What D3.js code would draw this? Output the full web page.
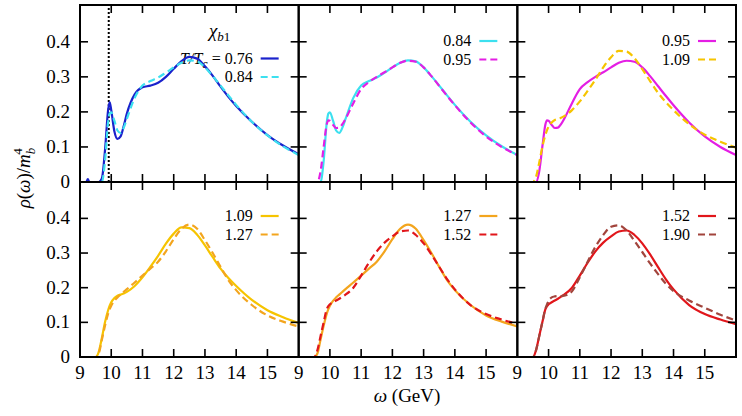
<!DOCTYPE html>
<html><head><meta charset="utf-8">
<script src="https://cdn.jsdelivr.net/npm/d3@7"></script>
<style>
body{margin:0;background:#fff;}
</style></head>
<body><svg id="chart" width="742" height="416" font-family="'Liberation Serif', 'DejaVu Serif', serif"></svg>
<script>
// omega grid (GeV)
const omega = [9.0, 9.2, 9.25, 9.3, 9.5, 9.6, 9.7, 9.8, 9.9, 9.95, 10.0, 10.1, 10.2, 10.3, 10.4, 10.5, 10.75, 11.0, 11.25, 11.5, 11.75, 12.0, 12.25, 12.5, 12.75, 13.0, 13.25, 13.5, 13.75, 14.0, 14.5, 15.0, 15.5, 16.0];
// rho(omega)/m_b^4 for each T/Tc
const rho076 = [0, 0, 0.008, 0, 0, 0, 0.01, 0.09, 0.205, 0.228, 0.205, 0.145, 0.123, 0.13, 0.16, 0.195, 0.25, 0.27, 0.275, 0.283, 0.3, 0.323, 0.345, 0.357, 0.352, 0.33, 0.303, 0.272, 0.243, 0.217, 0.172, 0.134, 0.104, 0.079];
const rho084 = [0, 0, 0, 0, 0, 0, 0, 0.06, 0.17, 0.195, 0.199, 0.175, 0.147, 0.14, 0.155, 0.18, 0.24, 0.275, 0.288, 0.298, 0.312, 0.327, 0.34, 0.347, 0.344, 0.327, 0.302, 0.275, 0.247, 0.22, 0.172, 0.133, 0.102, 0.077];
const rho095 = [0, 0, 0, 0, 0, 0, 0.03, 0.1, 0.165, 0.176, 0.175, 0.163, 0.154, 0.155, 0.165, 0.18, 0.225, 0.265, 0.285, 0.3, 0.313, 0.327, 0.34, 0.346, 0.343, 0.327, 0.302, 0.274, 0.246, 0.219, 0.17, 0.13, 0.1, 0.077];
const rho109 = [0, 0, 0, 0, 0, 0.015, 0.055, 0.1, 0.135, 0.148, 0.158, 0.17, 0.177, 0.18, 0.183, 0.188, 0.205, 0.23, 0.26, 0.292, 0.327, 0.356, 0.374, 0.372, 0.353, 0.322, 0.288, 0.255, 0.228, 0.205, 0.165, 0.135, 0.115, 0.098];
const rho127 = [0, 0, 0, 0, 0, 0.01, 0.05, 0.09, 0.125, 0.138, 0.148, 0.162, 0.172, 0.18, 0.188, 0.196, 0.215, 0.235, 0.255, 0.275, 0.305, 0.34, 0.37, 0.382, 0.37, 0.337, 0.3, 0.26, 0.222, 0.193, 0.15, 0.12, 0.102, 0.088];
const rho152 = [0, 0, 0, 0, 0, 0.02, 0.06, 0.1, 0.138, 0.147, 0.152, 0.158, 0.163, 0.168, 0.174, 0.18, 0.2, 0.235, 0.272, 0.305, 0.33, 0.348, 0.362, 0.365, 0.352, 0.328, 0.296, 0.26, 0.225, 0.195, 0.15, 0.124, 0.108, 0.095];
const rho190 = [0, 0, 0, 0, 0, 0.02, 0.06, 0.1, 0.14, 0.152, 0.162, 0.172, 0.175, 0.176, 0.176, 0.177, 0.19, 0.23, 0.275, 0.318, 0.352, 0.376, 0.38, 0.365, 0.335, 0.303, 0.27, 0.24, 0.212, 0.19, 0.163, 0.142, 0.122, 0.105];

const seriesLabels = ["0.76", "0.84", "0.95", "1.09", "1.27", "1.52", "1.90"];
const seriesValues = [rho076, rho084, rho095, rho109, rho127, rho152, rho190];
const seriesColors = ["#1a22cc", "#3ce0ef", "#e41ee4", "#f6c400", "#f3a51e", "#e1161b", "#a2443c"];
// panels: [solid series index, dashed series index]
const panelPairs = [[0, 1], [1, 2], [2, 3], [3, 4], [4, 5], [5, 6]];
const xTicks = [9, 10, 11, 12, 13, 14, 15];
const yTicks = [0, 0.1, 0.2, 0.3, 0.4];
const thresholdOmega = 9.92;

const svg = d3.select("#chart");
const pw = (736 - 80) / 3;
const rows = [{top: 5, bottom: 182}, {top: 182, bottom: 357}];
const FS = 19, LFS = 16;

const defs = svg.append("defs");

panelPairs.forEach((pair, i) => {
  const col = i % 3, row = Math.floor(i / 3);
  const x0 = 80 + col * pw, x1 = x0 + pw;
  const yT = rows[row].top, yB = rows[row].bottom;
  const x = d3.scaleLinear().domain([9, 16]).range([x0, x1]);
  const y = d3.scaleLinear().domain([0, 0.505]).range([yB, yT]);
  const g = svg.append("g");

  defs.append("clipPath").attr("id", "clip" + i)
    .append("rect").attr("x", x0).attr("y", yT).attr("width", pw).attr("height", yB - yT);

  // legend
  const lx = x1 - 46;
  if (i === 0) {
    const t = g.append("text").attr("x", 209).attr("y", 37).attr("font-size", FS);
    t.append("tspan").attr("font-style", "italic").text("χ");
    t.append("tspan").attr("font-size", 13).attr("dy", 4).attr("font-style", "italic").text("b");
    t.append("tspan").attr("font-size", 13).text("1");
  }
  pair.forEach((si, k) => {
    const ly = (i === 0) ? [58.5, 77][k] : (row === 0 ? [41, 59.5][k] : [216, 234.5][k]);
    const t = g.append("text").attr("x", lx).attr("y", ly + 5).attr("text-anchor", "end").attr("font-size", LFS);
    if (i === 0 && k === 0) {
      t.append("tspan").attr("font-style", "italic").text("T/T");
      t.append("tspan").attr("font-size", 12).attr("dy", 4).attr("font-style", "italic").text("c");
      t.append("tspan").attr("dy", -4).text(" = " + seriesLabels[si]);
    } else {
      t.text(seriesLabels[si]);
    }
    g.append("line").attr("x1", x1 - 38).attr("x2", x1 - 20).attr("y1", ly).attr("y2", ly)
      .attr("stroke", seriesColors[si]).attr("stroke-width", 2.2)
      .attr("stroke-dasharray", k === 1 ? "7,4" : null);
  });

  const cg = g.append("g").attr("clip-path", `url(#clip${i})`);
  if (i === 0) {
    cg.append("line").attr("x1", x(thresholdOmega)).attr("x2", x(thresholdOmega))
      .attr("y1", y(0)).attr("y2", yT).attr("stroke", "#000").attr("stroke-width", 2)
      .attr("stroke-dasharray", "2,2");
  }
  const line = d3.line().x((d, j) => x(omega[j])).y(d => y(d)).curve(d3.curveMonotoneX);
  pair.forEach((si, k) => {
    cg.append("path").datum(seriesValues[si]).attr("d", line)
      .attr("fill", "none").attr("stroke", seriesColors[si]).attr("stroke-width", 2.2)
      .attr("stroke-dasharray", k === 1 ? "7,4" : null);
  });

  // ticks (inward on all sides)
  const tl = 8;
  xTicks.slice(1).forEach(v => {
    g.append("line").attr("x1", x(v)).attr("x2", x(v)).attr("y1", yB).attr("y2", yB - tl).attr("stroke", "#000").attr("stroke-width", 1.6);
    g.append("line").attr("x1", x(v)).attr("x2", x(v)).attr("y1", yT).attr("y2", yT + tl).attr("stroke", "#000").attr("stroke-width", 1.6);
  });
  yTicks.slice(1).forEach(v => {
    g.append("line").attr("x1", x0).attr("x2", x0 + tl).attr("y1", y(v)).attr("y2", y(v)).attr("stroke", "#000").attr("stroke-width", 1.6);
    g.append("line").attr("x1", x1).attr("x2", x1 - tl).attr("y1", y(v)).attr("y2", y(v)).attr("stroke", "#000").attr("stroke-width", 1.6);
  });
  g.append("rect").attr("x", x0).attr("y", yT).attr("width", pw).attr("height", yB - yT)
    .attr("fill", "none").attr("stroke", "#000").attr("stroke-width", 2);

  if (col === 0) {
    yTicks.forEach(v => {
      g.append("text").attr("x", x0 - 10).attr("y", y(v) + 6).attr("text-anchor", "end")
        .attr("font-size", FS).text(v === 0 ? "0" : v.toFixed(1));
    });
  }
  if (row === 1) {
    xTicks.forEach(v => {
      g.append("text").attr("x", x(v)).attr("y", yB + 22).attr("text-anchor", "middle")
        .attr("font-size", FS).text(v);
    });
  }
});

// axis titles
const xl = svg.append("text").attr("x", 407).attr("y", 402).attr("text-anchor", "middle").attr("font-size", FS);
xl.append("tspan").attr("font-style", "italic").text("ω");
xl.append("tspan").text(" (GeV)");

const yl = svg.append("text").attr("transform", "translate(30,178) rotate(-90)").attr("text-anchor", "middle").attr("font-size", FS);
yl.append("tspan").attr("font-style", "italic").text("ρ");
yl.append("tspan").text("(");
yl.append("tspan").attr("font-style", "italic").text("ω");
yl.append("tspan").text(")/");
yl.append("tspan").attr("font-style", "italic").text("m");
yl.append("tspan").attr("font-size", 13).attr("font-style", "italic").attr("dy", 5).text("b");
yl.append("tspan").attr("font-size", 13).attr("dx", -7).attr("dy", -13).text("4");
</script>
</body></html>
